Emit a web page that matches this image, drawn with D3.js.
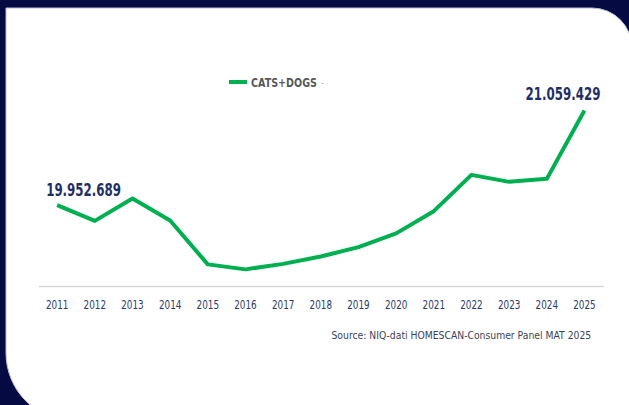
<!DOCTYPE html>
<html>
<head>
<meta charset="utf-8">
<script src="https://cdn.jsdelivr.net/npm/d3@7"></script>
<style>
  html, body { margin: 0; padding: 0; background: #060a42; }
  svg { display: block; }
</style>
</head>
<body>
<svg id="chart" width="629" height="405"></svg>
<script>
// Yearly values (MAT), cats + dogs
const years = ["2011","2012","2013","2014","2015","2016","2017","2018","2019","2020","2021","2022","2023","2024","2025"];
const catsDogs = [19952689, 19769000, 20029900, 19772500, 19260100, 19201600, 19266000, 19351400, 19461300, 19622800, 19882500, 20307200, 20225300, 20260400, 21059429];
const seriesName = "CATS+DOGS";
const yDomain = [19000000, 21500000];
const sourceNote = "Source: NIQ-dati HOMESCAN-Consumer Panel MAT 2025";

const svg = d3.select("#chart");
const W = 629, H = 405;
const FONT = "'DejaVu Sans', 'Liberation Sans', sans-serif";

// place a text at (x, y) and squeeze it horizontally to width w (condensed look)
function condensed(parent, x, y, w, anchor) {
  const g = parent.append("g");
  const t = g.append("text").attr("x", 0).attr("y", 0);
  return {
    text: t,
    fit() {
      const natural = t.node().getComputedTextLength();
      const s = w / natural;
      const x0 = anchor === "end" ? x - w : anchor === "middle" ? x - w / 2 : x;
      g.attr("transform", `translate(${x0},${y}) scale(${s},1)`);
      return t;
    }
  };
}

// dark backdrop
svg.append("rect").attr("width", W).attr("height", H).attr("fill", "#060a42");

// white card: square top-left, rounded top-right and bottom-left
const px0 = 6, py0 = 8, px1 = 632, py1 = 421, rTR = 40, rBL = 68;
const card = d3.path();
card.moveTo(px0, py0);
card.lineTo(px1 - rTR, py0);
card.arcTo(px1, py0, px1, py0 + rTR, rTR);
card.lineTo(px1, py1);
card.lineTo(px0 + rBL, py1);
card.arcTo(px0, py1, px0, py1 - rBL, rBL);
card.closePath();
svg.append("path").attr("d", card.toString())
  .attr("fill", "#ffffff").attr("stroke", "#b9bbd6").attr("stroke-width", 1);

// scales
const x = d3.scaleBand().domain(years).range([38.3, 603.3]);
const cx = d => x(d) + x.bandwidth() / 2;
const y = d3.scaleLinear().domain(yDomain).range([286.6, 72.9]);

// category axis: baseline from the axis generator, labels drawn condensed
const axisG = svg.append("g").attr("transform", "translate(0,286)")
  .call(d3.axisBottom(x).tickSize(0).tickFormat(""));
axisG.select(".domain").attr("stroke", "#d9d9d9").attr("stroke-width", 1.5);
years.forEach(yr => {
  const c = condensed(svg, cx(yr), 309, 22.5, "middle");
  c.text.attr("font-family", FONT).attr("font-size", 12.3)
    .attr("fill", "#2b3a6c").text(yr);
  c.fit();
});

// the line
const data = years.map((yr, i) => ({ yr, v: catsDogs[i] }));
const line = d3.line().x(d => cx(d.yr)).y(d => y(d.v));
svg.append("path").datum(data)
  .attr("d", line)
  .attr("fill", "none")
  .attr("stroke", "#00b050")
  .attr("stroke-width", 4)
  .attr("stroke-linejoin", "round")
  .attr("stroke-linecap", "butt");

// value labels for first and last year
const fmt = v => d3.format(",")(v).replace(/,/g, ".");
const first = data[0], last = data[data.length - 1];
const l1 = condensed(svg, cx(first.yr) - 11, y(first.v) - 9, 75, "start");
l1.text.attr("font-family", FONT).attr("font-weight", "bold").attr("font-size", 17.5)
  .attr("fill", "#1f2f66").text(fmt(first.v));
l1.fit();
const l2 = condensed(svg, cx(last.yr) + 16, y(last.v) - 11, 75, "end");
l2.text.attr("font-family", FONT).attr("font-weight", "bold").attr("font-size", 17.5)
  .attr("fill", "#1f2f66").text(fmt(last.v));
l2.fit();

// legend
const lg = svg.append("g");
lg.append("line").attr("x1", 229).attr("x2", 247).attr("y1", 82).attr("y2", 82)
  .attr("stroke", "#00b050").attr("stroke-width", 4);
const lt = condensed(lg, 251, 86.5, 66, "start");
lt.text.attr("font-family", FONT).attr("font-weight", "bold").attr("font-size", 12)
  .attr("fill", "#595959").text(seriesName);
lt.fit();
lg.append("text").attr("x", 321).attr("y", 86)
  .attr("font-family", FONT).attr("font-size", 8)
  .attr("fill", "#a6a6a6").text("-");

// source note
const src = condensed(svg, 331.5, 338.5, 260, "start");
src.text.attr("font-family", FONT).attr("font-size", 10.8)
  .attr("fill", "#3b3f55").text(sourceNote);
src.fit();
</script>
</body>
</html>
